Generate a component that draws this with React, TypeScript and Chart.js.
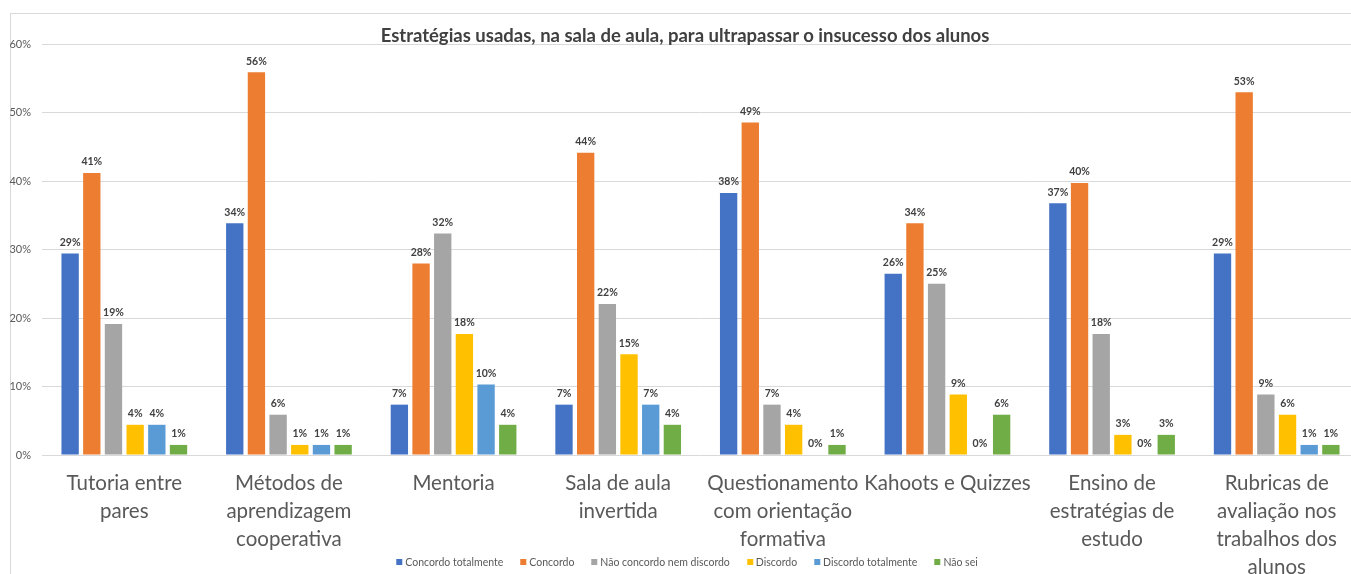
import React, { useEffect, useRef } from 'react';
import { Chart, registerables } from 'chart.js';

Chart.register(...registerables);

const title = 'Estratégias usadas, na sala de aula, para ultrapassar o insucesso dos alunos';

const categories: string[][] = [
  ['Tutoria entre', 'pares'],
  ['Métodos de', 'aprendizagem', 'cooperativa'],
  ['Mentoria'],
  ['Sala de aula', 'invertida'],
  ['Questionamento', 'com orientação', 'formativa'],
  ['Kahoots e Quizzes'],
  ['Ensino de', 'estratégias de', 'estudo'],
  ['Rubricas de', 'avaliação nos', 'trabalhos dos', 'alunos'],
];

const seriesNames = [
  'Concordo totalmente',
  'Concordo',
  'Não concordo nem discordo',
  'Discordo',
  'Discordo totalmente',
  'Não sei',
];

const concordoTotalmente = [29.41, 33.82, 7.35, 7.35, 38.24, 26.47, 36.76, 29.41];
const concordo = [41.18, 55.88, 27.94, 44.12, 48.53, 33.82, 39.71, 52.94];
const naoConcordoNemDiscordo = [19.12, 5.88, 32.35, 22.06, 7.35, 25.0, 17.65, 8.82];
const discordo = [4.41, 1.47, 17.65, 14.71, 4.41, 8.82, 2.94, 5.88];
const discordoTotalmente = [4.41, 1.47, 10.29, 7.35, 0, 0, 0, 1.47];
const naoSei = [1.47, 1.47, 4.41, 4.41, 1.47, 5.88, 2.94, 1.47];

const seriesValues = [
  concordoTotalmente,
  concordo,
  naoConcordoNemDiscordo,
  discordo,
  discordoTotalmente,
  naoSei,
];

const seriesColors = ['#4472C4', '#ED7D31', '#A5A5A5', '#FFC000', '#5B9BD5', '#70AD47'];

const yTicks = [0, 10, 20, 30, 40, 50, 60];

const valueLabels = {
  id: 'valueLabels',
  afterDatasetsDraw(chart: any) {
    const ctx = chart.ctx;
    ctx.save();
    ctx.font = 'bold 10.5px Lato';
    ctx.fillStyle = '#404040';
    ctx.textAlign = 'center';
    ctx.textBaseline = 'middle';
    chart.data.datasets.forEach((ds: any, i: number) => {
      const meta = chart.getDatasetMeta(i);
      meta.data.forEach((el: any, j: number) => {
        const v = ds.data[j] as number;
        ctx.fillText(Math.round(v) + '%', el.x, el.y - 11);
      });
    });
    ctx.restore();
  },
};

export default function App() {
  const canvasRef = useRef<HTMLCanvasElement | null>(null);

  useEffect(() => {
    if (!canvasRef.current) return;
    Chart.defaults.font.family = 'Lato';
    const chart = new Chart(canvasRef.current, {
      type: 'bar',
      data: {
        labels: categories,
        datasets: seriesNames.map((name, i) => ({
          label: name,
          data: seriesValues[i],
          backgroundColor: seriesColors[i],
          borderWidth: 0,
          barPercentage: 0.8,
          categoryPercentage: 0.79,
        })),
      },
      options: {
        responsive: false,
        animation: false,
        layout: { padding: { top: 44, right: 21, left: 0, bottom: 0 } },
        plugins: {
          legend: { display: false },
          title: { display: false },
          tooltip: { enabled: false },
        },
        scales: {
          x: {
            grid: { display: false, drawTicks: false },
            border: { display: false },
            ticks: {
              color: '#595959',
              font: { size: 20.5, family: 'Lato', lineHeight: 1.37 },
              padding: 14,
              autoSkip: false,
              maxRotation: 0,
              minRotation: 0,
            },
            afterFit(scale: any) {
              scale.height = 145;
            },
          },
          y: {
            min: 0,
            max: 60,
            afterBuildTicks(scale: any) {
              scale.ticks = yTicks.map((v) => ({ value: v }));
            },
            grid: { color: '#d9d9d9', lineWidth: 1, drawTicks: false },
            border: { display: false },
            ticks: {
              color: '#595959',
              font: { size: 11, family: 'Lato' },
              padding: 11,
              callback: (v: any) => v + '%',
            },
            afterFit(scale: any) {
              scale.width = 42;
            },
          },
        },
      },
      plugins: [valueLabels],
    });
    return () => chart.destroy();
  }, []);

  return (
    <div
      style={{
        position: 'fixed',
        left: 0,
        top: 0,
        width: 1351,
        height: 574,
        overflow: 'hidden',
        background: '#ffffff',
        fontFamily: 'Lato',
      }}
    >
      <div
        style={{
          position: 'absolute',
          left: 10,
          top: 13,
          width: 2000,
          height: 1000,
          borderLeft: '1px solid #d9d9d9',
          borderTop: '1px solid #d9d9d9',
        }}
      />
      <canvas
        ref={canvasRef}
        width={1380}
        height={600}
        style={{ position: 'absolute', left: 0, top: 0, width: 1380, height: 600 }}
      />
      <div
        style={{
          position: 'absolute',
          top: 24,
          left: 685,
          transform: 'translateX(-50%)',
          whiteSpace: 'nowrap',
          fontSize: 18.5,
          lineHeight: '22px',
          fontWeight: 'bold',
          color: '#404040',
        }}
      >
        {title}
      </div>
      <div
        style={{
          position: 'absolute',
          top: 555,
          left: 687,
          transform: 'translateX(-50%)',
          display: 'flex',
          gap: 17,
          whiteSpace: 'nowrap',
          fontSize: 10.5,
          lineHeight: '14px',
          color: '#595959',
        }}
      >
        {seriesNames.map((name, i) => (
          <div key={name} style={{ display: 'flex', alignItems: 'center' }}>
            <span
              style={{
                display: 'inline-block',
                width: 6,
                height: 6,
                background: seriesColors[i],
                marginRight: 3,
              }}
            />
            <span>{name}</span>
          </div>
        ))}
      </div>
    </div>
  );
}
